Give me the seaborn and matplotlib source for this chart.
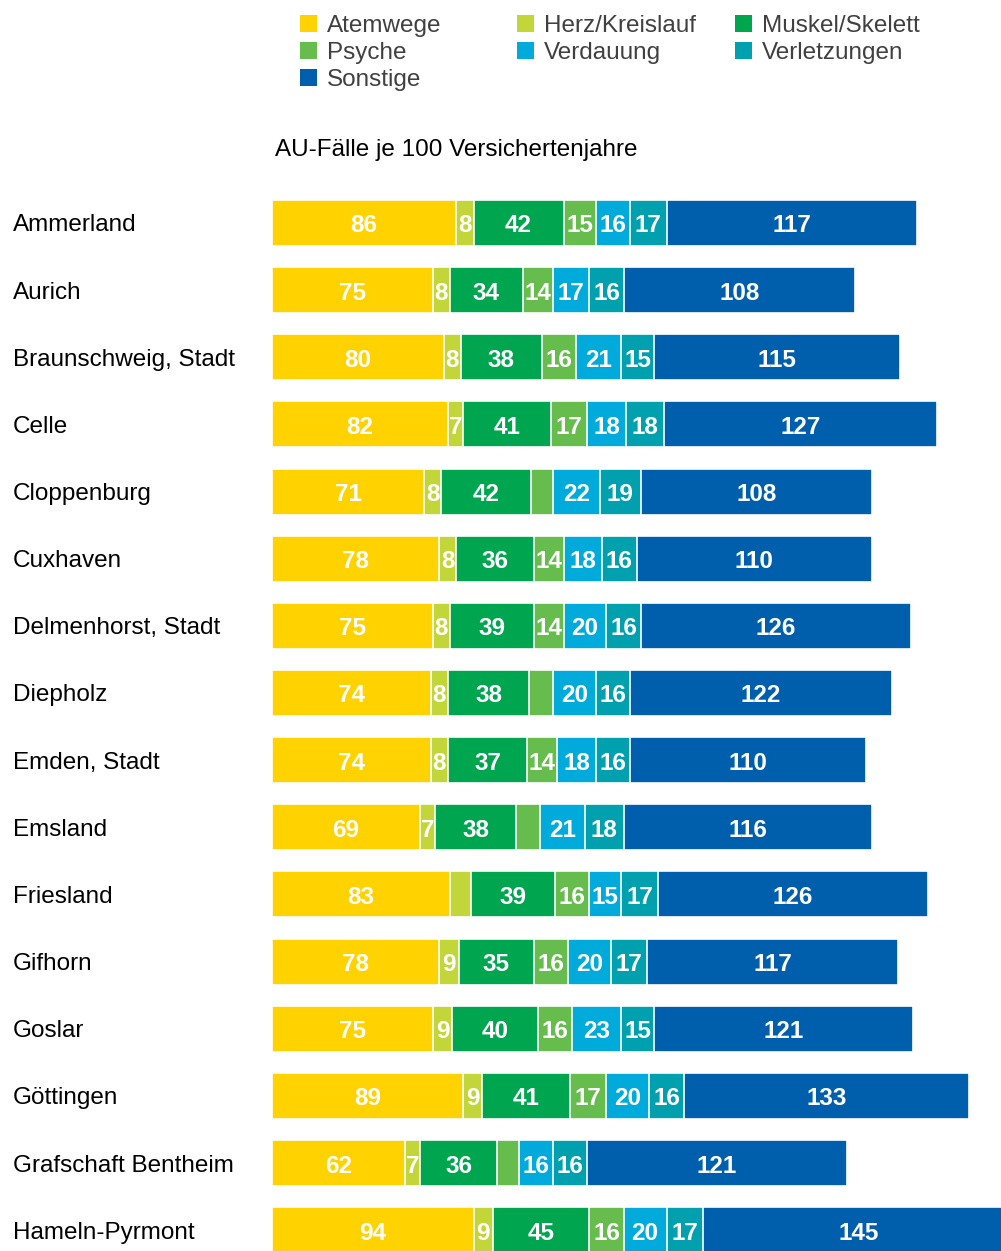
import numpy as np
import pandas as pd
import matplotlib
matplotlib.use("Agg")
import matplotlib.pyplot as plt
from matplotlib.patches import Patch
from matplotlib import font_manager
import seaborn as sns

# Daten: AU-Fälle je 100 Versichertenjahre nach Diagnosegruppe
kreise = ['Ammerland', 'Aurich', 'Braunschweig, Stadt', 'Celle', 'Cloppenburg',
          'Cuxhaven', 'Delmenhorst, Stadt', 'Diepholz', 'Emden, Stadt', 'Emsland',
          'Friesland', 'Gifhorn', 'Goslar', 'Göttingen', 'Grafschaft Bentheim',
          'Hameln-Pyrmont']
atemwege = [86, 75, 80, 82, 71, 78, 75, 74, 74, 69, 83, 78, 75, 89, 62, 94]
herz = [8, 8, 8, 7, 8, 8, 8, 8, 8, 7, 10, 9, 9, 9, 7, 9]
muskel = [42, 34, 38, 41, 42, 36, 39, 38, 37, 38, 39, 35, 40, 41, 36, 45]
psyche = [15, 14, 16, 17, 10, 14, 14, 11, 14, 11, 16, 16, 16, 17, 10, 16]
verdauung = [16, 17, 21, 18, 22, 18, 20, 20, 18, 21, 15, 20, 23, 20, 16, 20]
verletzungen = [17, 16, 15, 18, 19, 16, 16, 16, 16, 18, 17, 17, 15, 16, 16, 17]
sonstige = [117, 108, 115, 127, 108, 110, 126, 122, 110, 116, 126, 117, 121, 133, 121, 145]

gruppen = ['Atemwege', 'Herz/Kreislauf', 'Muskel/Skelett', 'Psyche',
           'Verdauung', 'Verletzungen', 'Sonstige']
farben = ['#FFD200', '#C2D63A', '#00A550', '#66BC4C', '#00AADB', '#00A0AF', '#005FAD']

df = pd.DataFrame({'Kreis': kreise, 'Atemwege': atemwege, 'Herz/Kreislauf': herz,
                   'Muskel/Skelett': muskel, 'Psyche': psyche, 'Verdauung': verdauung,
                   'Verletzungen': verletzungen, 'Sonstige': sonstige})
cum = df[gruppen].cumsum(axis=1)

sns.set_theme(style="white")
plt.rcParams['font.family'] = ['Liberation Sans', 'DejaVu Sans']

# fette Schrift direkt über die Datei holen (sonst greift evtl. "Narrow")
bold_paths = [f for f in font_manager.findSystemFonts(fontext='ttf')
              if f.endswith('LiberationSans-Bold.ttf')]
if bold_paths:
    fett = font_manager.FontProperties(fname=bold_paths[0], size=17.5)
else:
    fett = font_manager.FontProperties(family='DejaVu Sans', weight='bold', size=16)

W, H = 1001, 1251
fig = plt.figure(figsize=(W / 100, H / 100), dpi=100)
ax = fig.add_axes([272 / W, 0, 1 - 272 / W, (H - 190) / H])

# gestapelt: kumulierte Balken von hinten nach vorne
for g, c in reversed(list(zip(gruppen, farben))):
    sns.barplot(x=cum[g], y=df['Kreis'], orient='h', color=c, width=0.685,
                edgecolor='white', linewidth=1.2, ax=ax, saturation=1)

# Werte in die Segmente schreiben
for i in range(len(kreise)):
    links = 0
    for g in gruppen:
        v = df.loc[i, g]
        if v >= 5.6 * len(str(v)):
            ax.text(links + v / 2, i + 0.045, str(v), ha='center', va='center',
                    color='white', fontproperties=fett)
        links += v

ax.set_xlim(0, 340)
ax.set_ylim(15.31, -0.49)
ax.set_xlabel('')
ax.set_ylabel('')
ax.set_xticks([])
sns.despine(ax=ax, left=True, bottom=True)
ax.tick_params(axis='y', length=0, pad=259 * 72 / 100, labelsize=17.5)
for lab in ax.get_yticklabels():
    lab.set_horizontalalignment('left')
    lab.set_color('black')

fig.text(275 / W, 1 - 150 / H, 'AU-Fälle je 100 Versichertenjahre',
         ha='left', va='center', fontsize=17.5, color='black')

# Legende in drei Spalten
spalten = [(300, [0, 3, 6]), (517, [1, 4]), (735, [2, 5])]
for x, idx in spalten:
    handles = [Patch(facecolor=farben[k], edgecolor='none', label=gruppen[k]) for k in idx]
    fig.legend(handles=handles, loc='upper left', bbox_to_anchor=(x / W, 1 - 15 / H),
               frameon=False, fontsize=17.5, handlelength=0.7, handleheight=0.7,
               handletextpad=0.4, labelspacing=0.2, borderpad=0, borderaxespad=0,
               labelcolor='#404040')

fig.savefig('out.png', dpi=100)
